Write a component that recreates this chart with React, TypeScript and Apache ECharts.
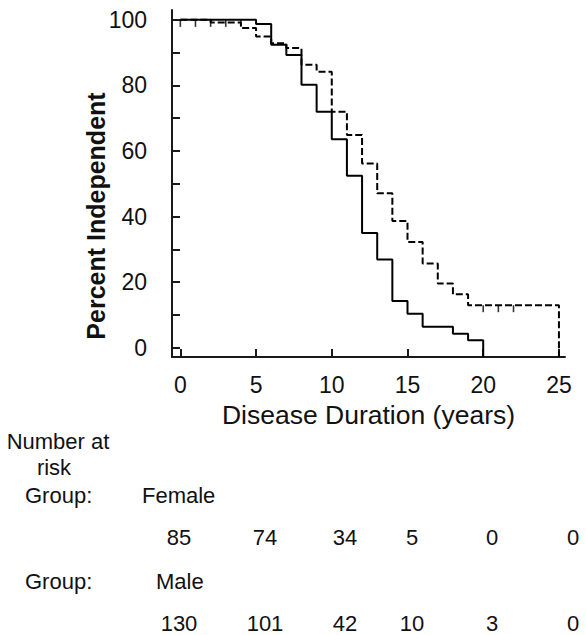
import React, { useEffect, useRef } from "react";
import * as echarts from "echarts";

// ---- data ----
const xTickValues = [0, 5, 10, 15, 20, 25];
const yTickValues = [0, 10, 20, 30, 40, 50, 60, 70, 80, 90, 100];
const yLabelValues = [0, 20, 40, 60, 80, 100];

// Female (solid)
const femaleTimes = [0, 5, 6, 7, 8, 9, 10, 11, 12, 13, 14, 15, 16, 18, 19, 20];
const femaleSurv = [100, 98.7, 92.4, 89.3, 80.2, 72, 63.6, 52.5, 35, 26.9, 14.3, 10.4, 6.4, 4.3, 2.3, 0];
const femaleCensorTimes = [0, 1, 2, 3, 4];
const femaleCensorSurv = [100, 100, 100, 100, 100];

// Male (dashed)
const maleTimes = [0, 2, 4, 5, 6, 7, 8, 9, 10, 11, 12, 13, 14, 15, 16, 17, 18, 19, 25];
const maleSurv = [100, 99.2, 97.5, 94.9, 92.9, 91.4, 86.3, 84.2, 72, 64.9, 56.2, 47.1, 38.7, 32.3, 25.7, 19.6, 16.3, 13, 13];
const maleCensorTimes = [20, 21, 22];
const maleCensorSurv = [13, 13, 13];

// Number at risk table
const riskTimes = ["0", "5", "10", "15", "20", "25"];
const femaleAtRisk = [85, 74, 34, 5, 0, 0];
const maleAtRisk = [130, 101, 42, 10, 3, 0];

// ---- layout constants ----
const X_MIN = -0.55;
const X_MAX = 25.4;
const Y_MIN = -2.8;
const Y_MAX = 103;
const FONT = "'Liberation Sans', Arial, sans-serif";
const INK = "#111";
const riskX = [179, 265, 345, 412, 492, 573];
const RISK_FS = 22;

function App() {
  const ref = useRef<HTMLDivElement>(null);

  useEffect(() => {
    if (!ref.current) return;
    const chart = echarts.init(ref.current, null, { renderer: "svg" });

    const toPairs = (t: number[], s: number[]) => t.map((x, i) => [x, s[i]]);
    const femaleLine = toPairs(femaleTimes, femaleSurv);
    femaleLine.push([femaleTimes[femaleTimes.length - 1], Y_MIN]);
    const maleLine = toPairs(maleTimes, maleSurv);
    maleLine.push([maleTimes[maleTimes.length - 1], Y_MIN]);

    const textStyle = (extra: any) => ({
      fontFamily: FONT,
      fill: INK,
      ...extra,
    });

    const graphics: any[] = [
      {
        type: "text",
        x: 96,
        y: 216,
        rotation: Math.PI / 2,
        style: textStyle({
          text: "Percent Independent",
          fontSize: 25,
          fontWeight: "bold",
          align: "center",
          verticalAlign: "middle",
        }),
      },
      {
        type: "text",
        x: 58,
        y: 441,
        style: textStyle({ text: "Number at", fontSize: RISK_FS, align: "center", verticalAlign: "middle" }),
      },
      {
        type: "text",
        x: 54,
        y: 467,
        style: textStyle({ text: "risk", fontSize: RISK_FS, align: "center", verticalAlign: "middle" }),
      },
      {
        type: "text",
        x: 25,
        y: 495,
        style: textStyle({ text: "Group:", fontSize: RISK_FS, align: "left", verticalAlign: "middle" }),
      },
      {
        type: "text",
        x: 142,
        y: 495,
        style: textStyle({ text: "Female", fontSize: RISK_FS, align: "left", verticalAlign: "middle" }),
      },
      {
        type: "text",
        x: 25,
        y: 581,
        style: textStyle({ text: "Group:", fontSize: RISK_FS, align: "left", verticalAlign: "middle" }),
      },
      {
        type: "text",
        x: 156,
        y: 581,
        style: textStyle({ text: "Male", fontSize: RISK_FS, align: "left", verticalAlign: "middle" }),
      },
    ];
    riskTimes.forEach((_, i) => {
      graphics.push({
        type: "text",
        x: riskX[i],
        y: 537,
        style: textStyle({ text: String(femaleAtRisk[i]), fontSize: RISK_FS, align: "center", verticalAlign: "middle" }),
      });
      graphics.push({
        type: "text",
        x: riskX[i],
        y: 623,
        style: textStyle({ text: String(maleAtRisk[i]), fontSize: RISK_FS, align: "center", verticalAlign: "middle" }),
      });
    });

    chart.setOption({
      animation: false,
      backgroundColor: "#fff",
      grid: { left: 172, top: 10, right: 21, bottom: 278, containLabel: false },
      xAxis: {
        type: "value",
        min: X_MIN,
        max: X_MAX,
        name: "Disease Duration (years)",
        nameLocation: "middle",
        nameGap: 44,
        nameTextStyle: { fontFamily: FONT, fontSize: 26.5, color: INK },
        axisLine: { show: true, onZero: false, lineStyle: { color: "#1a1a1a", width: 2 } },
        axisTick: { show: true, inside: true, length: 8, customValues: xTickValues, lineStyle: { color: "#1a1a1a", width: 2 } },
        axisLabel: { customValues: xTickValues, fontFamily: FONT, fontSize: 23, color: INK, margin: 16 },
        splitLine: { show: false },
      },
      yAxis: {
        type: "value",
        min: Y_MIN,
        max: Y_MAX,
        axisLine: { show: true, onZero: false, lineStyle: { color: "#1a1a1a", width: 2 } },
        axisTick: { show: true, inside: true, length: 8, customValues: yTickValues, lineStyle: { color: "#1a1a1a", width: 2 } },
        axisLabel: { customValues: yLabelValues, fontFamily: FONT, fontSize: 23, color: INK, margin: 25 },
        splitLine: { show: false },
      },
      series: [
        {
          name: "Female",
          type: "line",
          step: "end",
          data: femaleLine,
          showSymbol: false,
          symbol: "none",
          lineStyle: { color: "#000", width: 2 },
          z: 3,
        },
        {
          name: "Male",
          type: "line",
          step: "end",
          data: maleLine,
          showSymbol: false,
          symbol: "none",
          lineStyle: { color: "#000", width: 2, type: [7, 3] },
          z: 2,
        },
        {
          name: "Female censored",
          type: "scatter",
          data: toPairs(femaleCensorTimes, femaleCensorSurv),
          symbol: "rect",
          symbolSize: [1.6, 7],
          symbolOffset: [0, 3.5],
          itemStyle: { color: "#000" },
          z: 4,
        },
        {
          name: "Male censored",
          type: "scatter",
          data: toPairs(maleCensorTimes, maleCensorSurv),
          symbol: "rect",
          symbolSize: [1.6, 7],
          symbolOffset: [0, 3.5],
          itemStyle: { color: "#000" },
          z: 4,
        },
      ],
      graphic: graphics,
    });

    return () => chart.dispose();
  }, []);

  return (
    <div
      ref={ref}
      style={{ position: "fixed", left: 0, top: 0, width: 586, height: 635, background: "#fff" }}
    />
  );
}

export default App;
